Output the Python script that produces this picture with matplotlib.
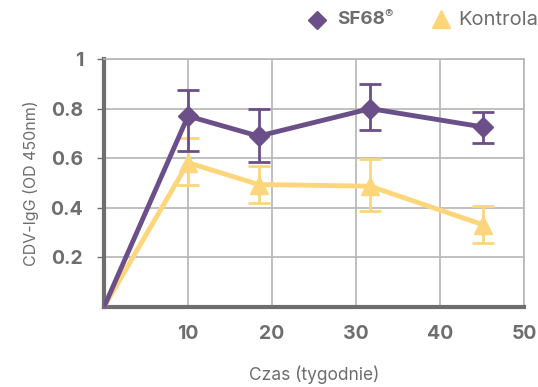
import matplotlib
matplotlib.use("Agg")
import matplotlib.pyplot as plt
from matplotlib.lines import Line2D

weeks_sf = [0, 10, 18.4, 31.7, 45.1]
sf68 = [0, 0.77, 0.689, 0.80, 0.726]
sf68_lo = [0, 0.141, 0.105, 0.087, 0.063]
sf68_hi = [0, 0.106, 0.111, 0.099, 0.062]

weeks_k = [0, 10, 18.4, 31.7, 45.1]
kontrola = [0, 0.582, 0.494, 0.487, 0.332]
kontrola_lo = [0, 0.091, 0.074, 0.098, 0.072]
kontrola_hi = [0, 0.098, 0.074, 0.108, 0.074]

xticks = [10, 20, 30, 40, 50]
yticks = [0.2, 0.4, 0.6, 0.8, 1.0]
ytick_labels = ["0.2", "0.4", "0.6", "0.8", "1"]

purple = "#6a4f88"
yellow = "#fdd67c"
grey = "#6e6e6e"

plt.rcParams['font.family'] = ['Inter', 'DejaVu Sans']

fig = plt.figure(figsize=(5.38, 3.87), dpi=100)
ax = fig.add_axes([0.1933, 0.2067, 0.7807, 0.6408])

ax.set_xlim(0, 50)
ax.set_ylim(0, 1)
ax.set_xticks(xticks)
ax.set_xticklabels([str(t) for t in xticks], fontsize=14, fontweight='bold', color=grey)
ax.set_yticks(yticks)
ax.set_yticklabels(ytick_labels, fontsize=14, fontweight='bold', color=grey)
ax.tick_params(axis='x', length=0, pad=13)
ax.tick_params(axis='y', length=5, width=1, color=grey, pad=10)
ax.grid(True, color="#b5b5b5", linewidth=1.2)
ax.set_axisbelow(True)
for s in ['top', 'right']:
    ax.spines[s].set_color("#b5b5b5")
    ax.spines[s].set_linewidth(1.2)
for s in ['left', 'bottom']:
    ax.spines[s].set_color(grey)
    ax.spines[s].set_linewidth(3)

ax.plot(weeks_k, kontrola, color=yellow, lw=3.5, zorder=3)
ax.errorbar(weeks_k[1:], kontrola[1:], yerr=[kontrola_lo[1:], kontrola_hi[1:]],
            fmt='^', color=yellow, ms=13, elinewidth=2, capsize=8, capthick=2, zorder=4)
ax.plot(weeks_sf, sf68, color=purple, lw=3.5, zorder=5)
ax.errorbar(weeks_sf[1:], sf68[1:], yerr=[sf68_lo[1:], sf68_hi[1:]],
            fmt='D', color=purple, ms=10, elinewidth=2, capsize=8, capthick=2, zorder=6)

ax.set_xlabel("Czas (tygodnie)", fontsize=12.5, color=grey, labelpad=16)
ax.set_ylabel("CDV-IgG (OD 450nm)", fontsize=11.5, color=grey, labelpad=8)

# legend
fig.add_artist(Line2D([317/538], [1 - 20/387], marker='D', color=purple, ms=9, ls='none'))
fig.text(337/538, 1 - 20/387, "SF68", fontsize=13.5, fontweight='bold', color=grey, va='center')
fig.text(384/538, 1 - 15/387, "\u00ae", fontsize=9, color=grey, va='center')
fig.add_artist(Line2D([441/538], [1 - 19/387], marker='^', color=yellow, ms=13, ls='none'))
fig.text(458/538, 1 - 20/387, "Kontrola", fontsize=14.5, color=grey, va='center')

fig.savefig("out.png", dpi=100)
